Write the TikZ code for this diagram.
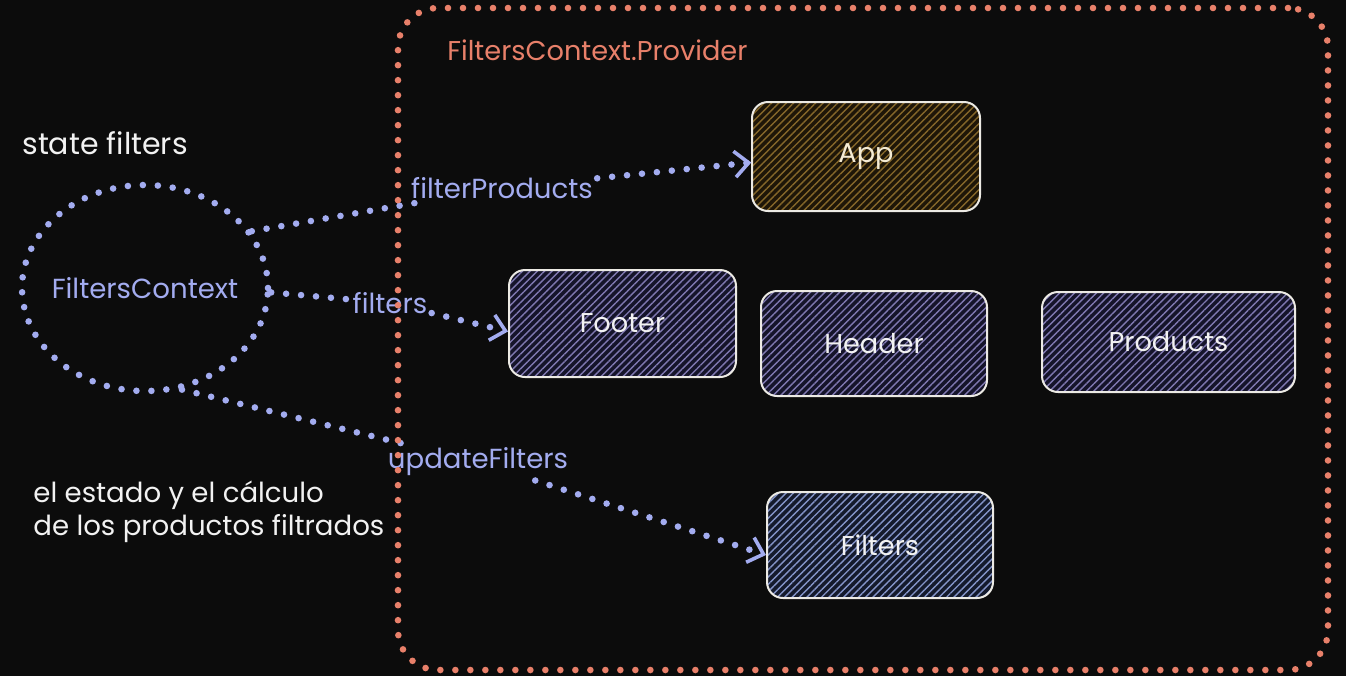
\documentclass[tikz,border=0pt]{standalone}
\usepackage{fontspec}
\setmainfont{Poppins}
\usetikzlibrary{shapes.geometric,arrows.meta,patterns.meta}
\definecolor{bg}{HTML}{0C0C0C}
\definecolor{prov}{HTML}{E8806A}
\definecolor{lav}{HTML}{A3ACF0}
\definecolor{txtw}{HTML}{F2F2F2}
\definecolor{appfill}{HTML}{1E1608}
\definecolor{appline}{HTML}{85672A}
\definecolor{apptxt}{HTML}{F4EBD4}
\definecolor{purfill}{HTML}{15142A}
\definecolor{purline}{HTML}{7F78B0}
\definecolor{filfill}{HTML}{141A2C}
\definecolor{filline}{HTML}{8494C8}
\definecolor{boxline}{HTML}{ECEAE4}
\begin{document}
\begin{tikzpicture}[x=0.5pt,y=-0.5pt,
  dots/.style={line width=3.3pt, line cap=round, dash pattern=on 0pt off 7.5pt},
  lavdots/.style={dots, draw=lav},
  tip/.style={-{Straight Barb[length=7pt,width=13pt,line width=1.8pt]}},
  hatchbox/.style 2 args={draw=boxline, line width=1pt, rounded corners=8pt,
    preaction={fill=#1}, pattern={Lines[angle=45,distance=2.6pt,line width=0.7pt]},
    pattern color=#2, text=txtw, font=\fontsize{13.6}{15}\selectfont},
  lbl/.style={text=lav, font=\fontsize{13.8}{15}\selectfont, inner sep=2pt},
  plain/.style={anchor=west, text=txtw, inner sep=0pt}
]
\fill[bg] (0,0) rectangle (1346,676);
\useasboundingbox (0,0) rectangle (1346,676);

% boxes
\node[hatchbox={appfill}{appline}, text=apptxt, minimum width=114pt, minimum height=54.5pt] (app) at (866,156.5) {App};
\node[hatchbox={purfill}{purline}, minimum width=113.5pt, minimum height=53.5pt] (footer) at (622.5,323.5) {Footer};
\node[hatchbox={purfill}{purline}, minimum width=113pt, minimum height=52.5pt] (header) at (874,343.5) {Header};
\node[hatchbox={purfill}{purline}, minimum width=126.5pt, minimum height=50pt] (products) at (1168.5,342) {Products};
\node[hatchbox={filfill}{filline}, minimum width=113pt, minimum height=53pt] (filters) at (880,545) {Filters};

% context ellipse
\node[ellipse, lavdots, minimum width=123pt, minimum height=103pt, inner sep=0pt] (ctx) at (145,288) {};
\node[text=lav, font=\fontsize{13.8}{15}\selectfont, inner sep=0pt] (ctxlbl) at (ctx.center) {FiltersContext};

% texts
\node[plain, font=\fontsize{15}{16}\selectfont] (state) at (22,143) {state filters};
\node[plain, font=\fontsize{13.8}{16.5}\selectfont, align=left] (note) at (33,512) {el estado y el cálculo\\de los productos filtrados};

% labels
\node[lbl] (l1) at (502,188) {filterProducts};
\node[lbl] (l2) at (390,303) {filters};
\node[lbl] (l3) at (478,462) {updateFilters};

% arrows
\draw[lavdots] (ctx.28) -- (l1);
\draw[lavdots, tip] (l1) -- ([yshift=-3pt]app.west);
\draw[lavdots] (ctx.-2) -- (l2);
\draw[lavdots, tip] (l2) -- ([yshift=-4pt]footer.west);
\draw[lavdots] (ctx.-70) -- (l3);
\draw[lavdots, tip] (l3) -- ([yshift=-5pt]filters.west);

% provider frame
\node[draw=prov, dots, rounded corners=20pt, minimum width=465pt, minimum height=331pt] (prov) at (863,339) {};
\node[plain, text=prov, font=\fontsize{13.6}{15}\selectfont] (provlbl) at (447,50) {FiltersContext.Provider};
\end{tikzpicture}
\end{document}
